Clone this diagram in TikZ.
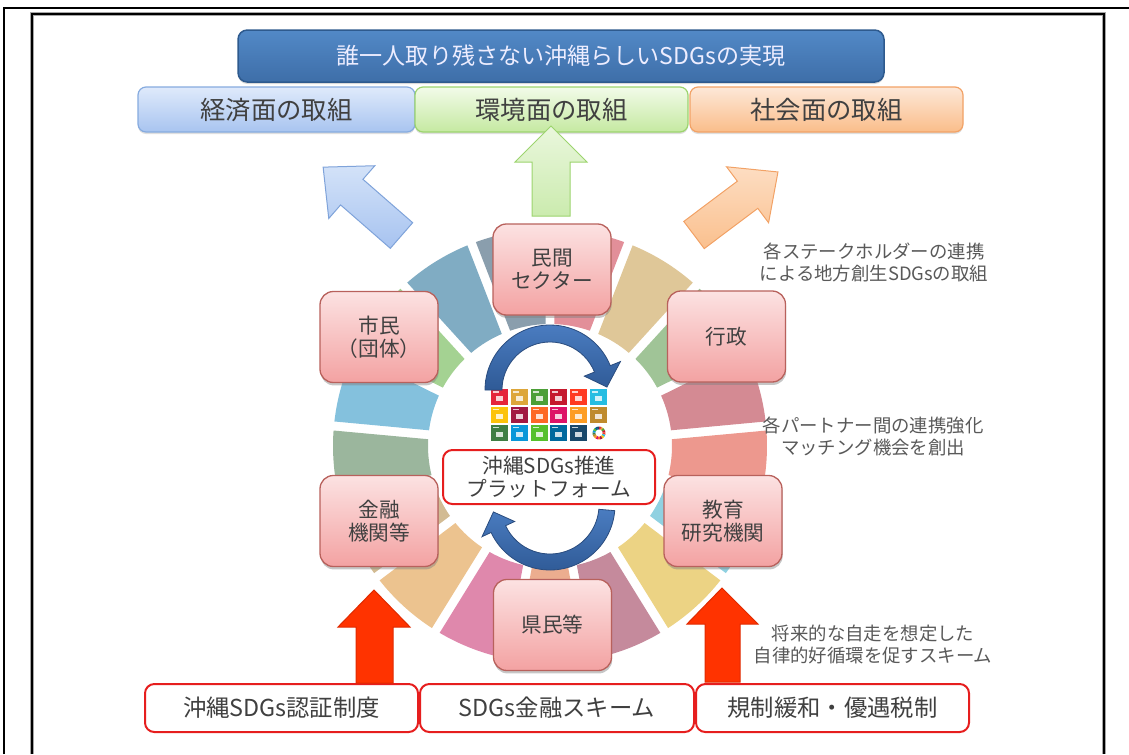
\documentclass[tikz,border=0pt]{standalone}
\usepackage{fontspec}
\setmainfont{Noto Sans CJK JP}
\usetikzlibrary{shadows}
\newdimen\pxu \pxu=0.75pt
\definecolor{sdg1}{HTML}{E5243B}
\definecolor{sdg2}{HTML}{DDA63A}
\definecolor{sdg3}{HTML}{4C9F38}
\definecolor{sdg4}{HTML}{C5192D}
\definecolor{sdg5}{HTML}{FF3A21}
\definecolor{sdg6}{HTML}{26BDE2}
\definecolor{sdg7}{HTML}{FCC30B}
\definecolor{sdg8}{HTML}{A21942}
\definecolor{sdg9}{HTML}{FD6925}
\definecolor{sdg10}{HTML}{DD1367}
\definecolor{sdg11}{HTML}{FD9D24}
\definecolor{sdg12}{HTML}{BF8B2E}
\definecolor{sdg13}{HTML}{3F7E44}
\definecolor{sdg14}{HTML}{0A97D9}
\definecolor{sdg15}{HTML}{56C02B}
\definecolor{sdg16}{HTML}{00689D}
\definecolor{sdg17}{HTML}{19486A}
\definecolor{txt}{HTML}{404040}
\definecolor{sidetxt}{HTML}{595959}
\definecolor{titleTop}{HTML}{5289C7}
\definecolor{titleBot}{HTML}{3E6EA8}
\definecolor{titleBorder}{HTML}{2E5A8E}
\definecolor{econTop}{HTML}{DFEAFB}
\definecolor{econBot}{HTML}{A8C4F0}
\definecolor{econBorder}{HTML}{86ABDF}
\definecolor{envTop}{HTML}{F2FBE9}
\definecolor{envBot}{HTML}{C5E9A1}
\definecolor{envBorder}{HTML}{9CD46E}
\definecolor{socTop}{HTML}{FDE8D8}
\definecolor{socBot}{HTML}{FABD8A}
\definecolor{socBorder}{HTML}{F2A266}
\definecolor{pinkTop}{HTML}{FCE2E2}
\definecolor{pinkBot}{HTML}{F3A2A2}
\definecolor{pinkBorder}{HTML}{B8615C}
\definecolor{redLine}{HTML}{E61E1E}
\definecolor{redArrow}{HTML}{FF3300}
\definecolor{redArrowBorder}{HTML}{E02A00}
\definecolor{cArrowTop}{HTML}{4A7CC0}
\definecolor{cArrowBot}{HTML}{2F5A96}
\definecolor{cArrowBorder}{HTML}{2A4C7E}
\definecolor{blueArrowTop}{HTML}{D3E2F8}
\definecolor{blueArrowBot}{HTML}{A7C3F0}
\definecolor{blueArrowBorder}{HTML}{7FA3DA}
\definecolor{greenArrowTop}{HTML}{EAF7DD}
\definecolor{greenArrowBot}{HTML}{CBEBAE}
\definecolor{orangeArrowTop}{HTML}{FDDDC2}
\definecolor{orangeArrowBot}{HTML}{FAC08E}
\begin{document}
\begin{tikzpicture}[x=0.75pt,y=0.75pt,
  titlebox/.style={draw=titleBorder, line width=1.5*\pxu, top color=titleTop, bottom color=titleBot,
    rounded corners=7pt, minimum width=646*\pxu, minimum height=52*\pxu, inner sep=0pt,
    text=white!93!blue, font=\fontsize{17.3}{20}\selectfont,
    drop shadow={shadow xshift=0pt, shadow yshift=-1.5pt, opacity=0.3}},
  topbox/.style={line width=1.2*\pxu, rounded corners=6pt, minimum height=45*\pxu, inner sep=0pt,
    text=txt, font=\fontsize{19}{21}\selectfont,
    drop shadow={shadow xshift=0pt, shadow yshift=-1.5pt, opacity=0.25}},
  pinkbox/.style={draw=pinkBorder, line width=1.3*\pxu, top color=pinkTop, bottom color=pinkBot,
    rounded corners=10pt, minimum width=118*\pxu, minimum height=91*\pxu, inner sep=0pt,
    align=center, text=txt, font=\fontsize{15.5}{17.5}\selectfont,
    drop shadow={shadow xshift=0.5pt, shadow yshift=-2.2pt, opacity=0.45}},
  redbox/.style={draw=redLine, line width=2*\pxu, fill=white, rounded corners=7pt, inner sep=0pt,
    align=center, text=txt},
  sidetext/.style={align=center, text=sidetxt, font=\fontsize{13.8}{16.5}\selectfont, inner sep=0pt},
  blockarrow/.style={line width=1*\pxu},
]
\useasboundingbox (0,0) rectangle (1129,-754);
% frames
\draw[line width=2.5*\pxu] (4,-754) -- (4,-8) -- (1129,-8);
\draw[line width=4.5*\pxu, black!35] (32,-754) -- (32,-14) -- (1104,-14) -- (1104,-754);
\draw[line width=2*\pxu] (32,-754) -- (32,-14) -- (1104,-14) -- (1104,-754);

% SDG wheel (faded)
\begin{scope}[shift={(550,-446)}]
\foreach \i in {1,...,17}{
  \pgfmathsetmacro\ao{90-(\i-1)*360/17-1.2}
  \pgfmathsetmacro\bo{90-\i*360/17+1.2}
  \pgfmathsetmacro\ai{90-(\i-1)*360/17-2.1}
  \pgfmathsetmacro\bi{90-\i*360/17+2.1}
  \fill[sdg\i!50!white!86!gray] (\ao:217) arc[start angle=\ao, end angle=\bo, radius=217]
    -- (\bi:122) arc[start angle=\bi, end angle=\ai, radius=122] -- cycle;
}
\end{scope}

% SDG icons
\foreach \c [count=\k from 0] in {sdg1,sdg2,sdg3,sdg4,sdg5,sdg6,sdg7,sdg8,sdg9,sdg10,sdg11,sdg12,sdg13,sdg14,sdg15,sdg16,sdg17}{
  \pgfmathsetmacro\xx{491+19.8*mod(\k,6)}
  \pgfmathsetmacro\yy{389+17.8*floor(\k/6)}
  \fill[\c] (\xx,-\yy) rectangle ++(17,-16);
  \fill[white, opacity=0.75] (\xx+2,-\yy-2) rectangle ++(6,-1.5);
  \fill[white, opacity=0.8] (\xx+5,-\yy-7) rectangle ++(7,-5);
}
\begin{scope}[shift={(599,-433)}]
\foreach \i in {1,...,17}{
  \pgfmathsetmacro\aa{90-(\i-1)*360/17}
  \pgfmathsetmacro\bb{90-\i*360/17}
  \fill[sdg\i] (\aa:6.5) arc[start angle=\aa, end angle=\bb, radius=6.5]
    -- (\bb:3.6) arc[start angle=\bb, end angle=\aa, radius=3.6] -- cycle;
}
\end{scope}

% circular arrows
\begin{scope}[shift={(550,-390)}]
\path[top color=cArrowTop, bottom color=cArrowBot, draw=cArrowBorder, line width=0.8*\pxu]
  (180:65) arc[start angle=180, end angle=22, radius=65] -- (22:76) -- (3:57) -- (22:37)
  -- (22:48) arc[start angle=22, end angle=180, radius=48] -- cycle;
\end{scope}
\begin{scope}[shift={(550,-505)}]
\path[top color=cArrowTop, bottom color=cArrowBot, draw=cArrowBorder, line width=0.8*\pxu]
  (-5:65) arc[start angle=-5, end angle=-155, radius=65] -- (-155:75) -- (-173:57) -- (-155:39)
  -- (-155:49) arc[start angle=-155, end angle=-5, radius=49] -- cycle;
\end{scope}

% stakeholder boxes
\node[pinkbox] (minkan) at (552,-269.5) {民間\\セクター};
\node[pinkbox] (shimin) at (379,-337) {市民\\（団体）};
\node[pinkbox] (gyosei) at (726.5,-336.5) {行政};
\node[pinkbox] (kinyu) at (379,-521) {金融\\機関等};
\node[pinkbox] (kyoiku) at (723,-521) {教育\\研究機関};
\node[pinkbox] (kenmin) at (552.5,-625) {県民等};

% platform
\node[redbox, minimum width=212*\pxu, minimum height=54*\pxu, font=\fontsize{15.5}{17.5}\selectfont]
  (pf) at (549,-477) {沖縄SDGs推進\\プラットフォーム};

% title and three domains
\node[titlebox] (title) at (561,-56) {誰一人取り残さない沖縄らしいSDGsの実現};
\node[topbox, draw=econBorder, top color=econTop, bottom color=econBot, minimum width=277*\pxu]
  (econ) at (276.5,-109.5) {経済面の取組};
\node[topbox, draw=envBorder, top color=envTop, bottom color=envBot, minimum width=273*\pxu]
  (env) at (551.5,-109.5) {環境面の取組};
\node[topbox, draw=socBorder, top color=socTop, bottom color=socBot, minimum width=273*\pxu]
  (soc) at (826.5,-109.5) {社会面の取組};

% upward block arrows to the three domains
\path[blockarrow, draw=envBorder, top color=greenArrowTop, bottom color=greenArrowBot]
  (532,-216) -- (532,-162) -- (515,-162) -- (551,-126) -- (587,-162) -- (570,-162) -- (570,-216) -- cycle;
\begin{scope}[shift={(401.5,-235.5)}, rotate=138.9]
\path[blockarrow, draw=blueArrowBorder, top color=blueArrowTop, bottom color=blueArrowBot]
  (0,-17) -- (66,-17) -- (66,-35) -- (104,0) -- (66,35) -- (66,17) -- (0,17) -- cycle;
\end{scope}
\begin{scope}[shift={(694,-235)}, rotate=36.9]
\path[blockarrow, draw=socBorder, top color=orangeArrowTop, bottom color=orangeArrowBot]
  (0,-17) -- (67,-17) -- (67,-35) -- (105,0) -- (67,35) -- (67,17) -- (0,17) -- cycle;
\end{scope}

% bottom schemes
\node[redbox, minimum width=273*\pxu, minimum height=48*\pxu, font=\fontsize{17.5}{20}\selectfont]
  (cert) at (281.5,-708) {沖縄SDGs認証制度};
\node[redbox, minimum width=274*\pxu, minimum height=48*\pxu, font=\fontsize{17.5}{20}\selectfont]
  (fin) at (557,-708) {SDGs金融スキーム};
\node[redbox, minimum width=273*\pxu, minimum height=48*\pxu, font=\fontsize{17.5}{20}\selectfont]
  (reg) at (832.5,-708) {規制緩和・優遇税制};

% red up arrows
\path[fill=redArrow, draw=redArrowBorder, line width=1*\pxu]
  (356,-683) -- (356,-627) -- (338,-627) -- (374,-590) -- (410,-627) -- (393,-627) -- (393,-683) -- cycle;
\path[fill=redArrow, draw=redArrowBorder, line width=1*\pxu]
  (705,-682) -- (705,-624) -- (687,-624) -- (722,-588) -- (758,-624) -- (740,-624) -- (740,-682) -- cycle;

% side notes
\node[sidetext] (note1) at (874,-262) {各ステークホルダーの連携\\による地方創生SDGsの取組};
\node[sidetext] (note2) at (873,-436) {各パートナー間の連携強化\\マッチング機会を創出};
\node[sidetext] (note3) at (873,-644) {将来的な自走を想定した\\自律的好循環を促すスキーム};
\end{tikzpicture}
\end{document}
